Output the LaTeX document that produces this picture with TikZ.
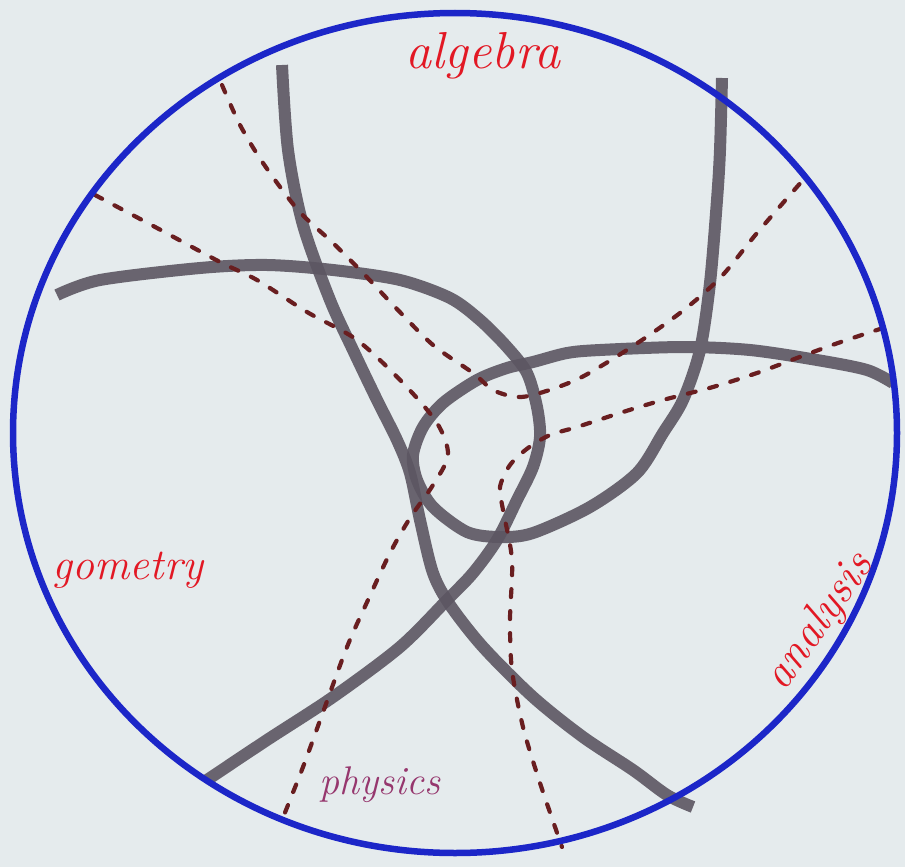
\documentclass[tikz,border=0pt]{standalone}
\usepackage{fontspec}

\definecolor{paper}{RGB}{229,235,237}
\definecolor{rimblue}{RGB}{28,38,200}
\definecolor{strandgray}{RGB}{92,86,98}
\definecolor{linkbrown}{RGB}{105,30,32}
\definecolor{fieldred}{RGB}{226,24,36}
\definecolor{physpurple}{RGB}{150,55,110}

\begin{document}
\begin{tikzpicture}[x=1pt,y=-1pt]

% ---------- styles ----------
\tikzset{
  rim/.style={draw=rimblue, line width=6.5pt},
  strand/.style={draw=strandgray, line width=12pt, opacity=0.9},
  link/.style={draw=linkbrown, line width=4.2pt, line cap=round,
    dash pattern=on 8pt off 14pt},
  field/.style={text=fieldred, font=\fontsize{52}{58}\selectfont\itshape}
}

% ---------- frame ----------
\useasboundingbox (0,0) rectangle (905,867);
\fill[paper] (0,0) rectangle (905,867);

% ---------- gray strands ----------
\draw[strand] plot[smooth] coordinates {(282,65) (288,150) (303,225)
  (330,300) (353,350) (377,400) (397,440) (410,473) (420,520) (433,573)
  (450,605) (483,647) (533,697) (583,737) (633,770) (667,795) (693,807)};

\draw[strand] plot[smooth] coordinates {(722,78) (720,150) (717,200)
  (710,283) (700,350) (683,400) (663,433) (637,473) (590,507) (533,533)
  (500,537) (467,532) (433,507) (417,480) (413,455) (423,427) (443,403)
  (477,380) (507,368) (533,362) (567,353) (600,350) (683,347) (750,350)
  (817,360) (867,370) (893,383)};

\draw[strand] plot[smooth] coordinates {(57,295) (100,280) (200,268)
  (267,265) (333,270) (400,280) (450,298) (480,320) (507,347) (527,373)
  (537,407) (540,437) (533,467) (517,500) (497,540) (473,573) (447,600)
  (400,647) (333,697) (267,740) (207,780)};

% ---------- dashed links ----------
\draw[link] plot[smooth] coordinates {(222,85) (240,125) (263,163)
  (298,210) (333,243) (363,273) (395,307) (433,345) (473,373) (493,390)
  (517,397) (540,393) (580,378) (630,348) (680,313) (720,278) (757,233)
  (803,180)};

\draw[link] plot[smooth] coordinates {(95,195) (157,228) (220,262)
  (257,280) (307,312) (357,340) (403,383) (437,423) (448,455) (433,485)
  (410,518) (390,553) (368,600) (347,647) (322,715) (303,767) (280,825)};

\draw[link] plot[smooth] coordinates {(883,328) (838,343) (797,358)
  (757,373) (713,387) (663,400) (623,412) (577,427) (550,435) (528,448)
  (510,465) (500,487) (503,510) (512,560) (510,620) (512,670) (523,727)
  (540,783) (562,847)};

% ---------- outer circle ----------
\coordinate (O) at (455,433);
\draw[rim] (O) ellipse [x radius=442, y radius=420];

% ---------- labels ----------
\node[field] (alg) at (483,56) {algebra};
\node[field, font=\fontsize{44}{50}\selectfont\itshape] (geo) at (128,570) {gometry};
\node[field, rotate=55, font=\fontsize{46}{52}\selectfont\itshape] (ana) at (820,622) {analysis};
\node[field, text=physpurple, font=\fontsize{40}{46}\selectfont\itshape]
  (phy) at (380,785) {physics};

\end{tikzpicture}
\end{document}
